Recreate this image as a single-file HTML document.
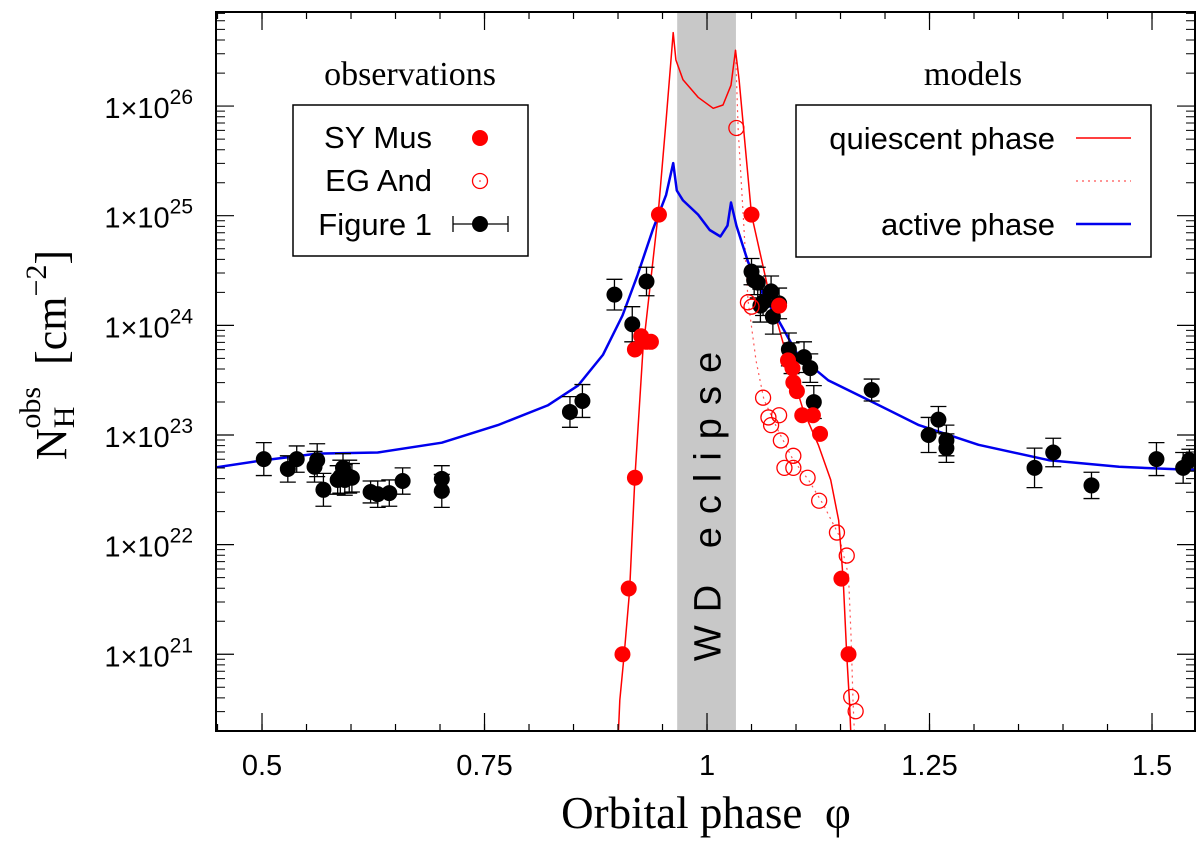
<!DOCTYPE html>
<html><head><meta charset="utf-8"><style>
html,body{margin:0;padding:0;background:#fff;}
svg{display:block;}
text{font-family:"Liberation Sans",sans-serif;}
.serif{font-family:"Liberation Serif",serif;}
</style></head><body>
<svg id="chart" width="1200" height="842" viewBox="0 0 1200 842" xmlns="http://www.w3.org/2000/svg" style="position:absolute;left:0;top:0">
<defs><clipPath id="clip"><rect x="216" y="12" width="979" height="719"/></clipPath></defs>
<g id="plot" clip-path="url(#clip)"></g>
<g id="axes"></g>
</svg>
<script>
const blackPhase=[0.502,0.529,0.539,0.559,0.562,0.569,0.585,0.588,0.591,0.593,0.598,0.601,0.622,0.630,0.643,0.658,0.702,0.702,0.846,0.860,0.896,0.916,0.932,1.050,1.053,1.057,1.060,1.063,1.072,1.074,1.081,1.092,1.095,1.109,1.116,1.120,1.185,1.249,1.260,1.269,1.269,1.368,1.389,1.432,1.505,1.535,1.542];
const blackLog=[22.78,22.69,22.78,22.71,22.77,22.50,22.59,22.62,22.70,22.59,22.62,22.61,22.48,22.46,22.47,22.58,22.60,22.49,23.21,23.31,24.28,24.01,24.40,24.49,24.41,24.39,24.18,24.21,24.31,24.08,24.20,23.78,23.70,23.71,23.61,23.30,23.41,23.00,23.14,22.95,22.88,22.70,22.84,22.54,22.78,22.70,22.77];
const blackErr=[0.15,0.12,0.12,0.14,0.15,0.15,0.13,0.15,0.13,0.14,0.15,0.13,0.1,0.12,0.12,0.12,0.12,0.15,0.14,0.15,0.14,0.16,0.13,0.12,0.13,0.14,0.15,0.12,0.14,0.16,0.14,0.15,0.14,0.14,0.13,0.15,0.1,0.16,0.12,0.14,0.13,0.18,0.13,0.12,0.15,0.14,0.1];
const syPhase=[0.905,0.912,0.919,0.919,0.926,0.932,0.937,0.946,1.050,1.081,1.091,1.096,1.097,1.101,1.107,1.119,1.127,1.151,1.159];
const syLog=[21.0,21.60,22.61,23.78,23.90,23.85,23.85,25.01,25.01,24.18,23.68,23.61,23.48,23.40,23.18,23.18,23.01,21.69,21.0];
const egPhase=[1.033,1.046,1.050,1.063,1.069,1.081,1.072,1.083,1.097,1.087,1.097,1.113,1.126,1.146,1.157,1.162,1.167];
const egLog=[25.80,24.21,24.17,23.34,23.16,23.18,23.09,22.95,22.81,22.70,22.70,22.61,22.40,22.11,21.90,20.61,20.48];
const quiPhase=[0.900,0.902,0.907,0.913,0.919,0.928,0.945,0.954,0.962,0.965,0.973,0.990,1.007,1.018,1.027,1.032,1.036,1.050,1.069,1.091,1.108,1.125,1.139,1.148,1.153,1.157,1.160,1.162];
const quiLog=[20.2,20.58,21.0,21.58,22.61,23.77,25.01,25.87,26.67,26.42,26.24,26.08,25.98,26.01,26.19,26.51,26.24,25.01,24.32,23.68,23.23,22.91,22.59,22.22,21.68,21.0,20.58,20.2];
const dotPhase=[1.032,1.035,1.041,1.046,1.055,1.064,1.080,1.097,1.114,1.131,1.148,1.159,1.162,1.164,1.166];
const dotLog=[26.51,25.78,24.96,24.23,23.68,23.32,23.04,22.77,22.59,22.36,22.09,21.72,21.13,20.58,20.2];
const actPhase=[0.444,0.502,0.562,0.630,0.702,0.765,0.821,0.855,0.883,0.905,0.922,0.939,0.954,0.962,0.966,0.973,0.990,1.003,1.015,1.023,1.027,1.033,1.046,1.063,1.080,1.102,1.136,1.181,1.238,1.305,1.384,1.463,1.550];
const actLog=[22.70,22.77,22.83,22.84,22.93,23.09,23.27,23.45,23.73,24.09,24.46,24.87,25.19,25.48,25.23,25.14,25.01,24.87,24.81,24.91,25.12,24.91,24.58,24.28,24.05,23.73,23.50,23.32,23.09,22.91,22.77,22.71,22.68];
const xTicks=[0.5,0.75,1,1.25,1.5];
const xTickLabels=["0.5","0.75","1","1.25","1.5"];
const yTicks=[21,22,23,24,25,26];
const eclipse=[0.9665,1.0325];

const X0=216,X1=1195,Y0=731,Y1=12,PMIN=0.4483,PMAX=1.5483,LMIN=20.30,LMAX=26.858;
const sx=p=>X0+(p-PMIN)/(PMAX-PMIN)*(X1-X0);
const sy=l=>Y0-(l-LMIN)/(LMAX-LMIN)*(Y0-Y1);
const NS="http://www.w3.org/2000/svg";
const plot=document.getElementById('plot'),axes=document.getElementById('axes');
function mk(tag,attrs,parent,txt){const e=document.createElementNS(NS,tag);for(const k in attrs)e.setAttribute(k,attrs[k]);if(txt!==undefined)e.textContent=txt;parent.appendChild(e);return e;}

let band=mk('rect',{x:sx(eclipse[0]),y:Y1,width:sx(eclipse[1])-sx(eclipse[0]),height:Y0-Y1,fill:'#c8c8c8'},plot);


const cx=(sx(eclipse[0])+sx(eclipse[1]))/2;
let el=mk('text',{x:0,y:0,transform:`translate(${cx+14},500) rotate(-90)`,'text-anchor':'middle','font-size':'38','letter-spacing':'13'},plot,'WD eclipse');



function line(ps,ls,attrs,name){const d=ps.map((p,i)=>(i?'L':'M')+sx(p).toFixed(1)+','+sy(ls[i]).toFixed(1)).join('');const e=mk('path',Object.assign({d,fill:'none','stroke-linejoin':'round'},attrs),plot);return e;}
line(dotPhase,dotLog,{stroke:'#f55','stroke-width':1.2,'stroke-dasharray':'2,4'},'quiescent-model-dotted');
line(quiPhase,quiLog,{stroke:'#f00','stroke-width':1.5},'quiescent-model-line');
line(actPhase,actLog,{stroke:'#0000ee','stroke-width':2.5},'active-model-line');

blackPhase.forEach((p,i)=>{const x=sx(p),yt=sy(blackLog[i]+blackErr[i]),yb=sy(blackLog[i]-blackErr[i]);
 const g=mk('g',{},plot);
 
 
 mk('path',{d:`M${x},${yt}L${x},${yb}M${x-8},${yt}L${x+8},${yt}M${x-8},${yb}L${x+8},${yb}`,stroke:'#000','stroke-width':1.3},g);
 mk('circle',{cx:x,cy:sy(blackLog[i]),r:8,fill:'#000'},g);});
syPhase.forEach((p,i)=>{const c=mk('circle',{cx:sx(p),cy:sy(syLog[i]),r:8,fill:'#f00'},plot);
 
 });
egPhase.forEach((p,i)=>{const c=mk('circle',{cx:sx(p),cy:sy(egLog[i]),r:7.5,fill:'none',stroke:'#f00','stroke-width':1.3},plot);
 
 });

el=mk('rect',{x:X0,y:Y1,width:X1-X0,height:Y0-Y1,fill:'none',stroke:'#000','stroke-width':2},axes);


for(let t=0.45;t<1.55;t+=0.05){const x=sx(t);if(x>X0+1&&x<X1-1)mk('path',{d:`M${x},${Y0}L${x},${Y0-7}M${x},${Y1}L${x},${Y1+7}`,stroke:'#000','stroke-width':1.2},axes);}
xTicks.forEach((t,i)=>{const x=sx(t);
 mk('path',{d:`M${x},${Y0}L${x},${Y0-18}M${x},${Y1}L${x},${Y1+18}`,stroke:'#000','stroke-width':1.2},axes);
 const tl=mk('text',{x:x,y:775,'text-anchor':'middle','font-size':'29'},axes,xTickLabels[i]);
 
 });
for(let t=20;t<=26;t++){for(let k=2;k<10;k++){const ym=sy(t+Math.log10(k));if(ym>Y1&&ym<Y0)mk('path',{d:`M${X0},${ym}L${X0+9},${ym}M${X1},${ym}L${X1-9},${ym}`,stroke:'#000','stroke-width':1},axes);}}
yTicks.forEach(t=>{const y=sy(t);
 mk('path',{d:`M${X0},${y}L${X0+18},${y}M${X1},${y}L${X1-18},${y}`,stroke:'#000','stroke-width':1.2},axes);
 const tl=mk('text',{x:193,y:y+12,'text-anchor':'end','font-size':'29'},axes);
 
 
 mk('tspan',{},tl,'1×10');mk('tspan',{dy:-14,'font-size':'21'},tl,String(t));});
</script>
<svg style="position:absolute;left:0;top:0" width="1200" height="842">
<text class="serif" x="706" y="828" text-anchor="middle" font-size="45" xml:space="preserve">Orbital phase  φ</text>
<g transform="translate(66,355) rotate(-90)">
<text class="serif" x="0" y="0" text-anchor="middle" font-size="44" xml:space="preserve">N<tspan font-size="30" dy="8">H</tspan><tspan font-size="30" dx="-22" dy="-34">obs</tspan><tspan dy="26">  [cm</tspan><tspan font-size="30" dy="-20">−2</tspan><tspan dy="20">]</tspan></text></g>
<text class="serif" x="410" y="85" text-anchor="middle" font-size="34">observations</text>
<text class="serif" x="973" y="85" text-anchor="middle" font-size="34">models</text>
<g>
<rect x="293" y="105" width="235" height="151" fill="#fff" stroke="#000" stroke-width="1.5"/>
<text x="432" y="148" text-anchor="end" font-size="31">SY Mus</text>
<circle cx="480" cy="138" r="8" fill="#f00"/>
<text x="432" y="191" text-anchor="end" font-size="31">EG And</text>
<circle cx="480" cy="181" r="7.5" fill="none" stroke="#f00" stroke-width="1.3"/>
<circle cx="480" cy="181" r="0.8" fill="#f00"/>
<text x="432" y="235" text-anchor="end" font-size="31">Figure 1</text>
<path d="M453,224L508,224M453,216L453,232M508,216L508,232" stroke="#000" stroke-width="1.3"/>
<circle cx="480" cy="224" r="8" fill="#000"/>
</g>
<g>
<rect x="796" y="105" width="355" height="152" fill="#fff" stroke="#000" stroke-width="1.5"/>
<text x="1055" y="149" text-anchor="end" font-size="31">quiescent phase</text>
<path d="M1076,138L1131,138" stroke="#f00" stroke-width="1.5"/>
<path d="M1076,181L1131,181" stroke="#f55" stroke-width="1.2" stroke-dasharray="2,4"/>
<text x="1055" y="235" text-anchor="end" font-size="31">active phase</text>
<path d="M1076,224L1131,224" stroke="#0000ee" stroke-width="2.5"/>
</g>
</svg>
</body></html>
